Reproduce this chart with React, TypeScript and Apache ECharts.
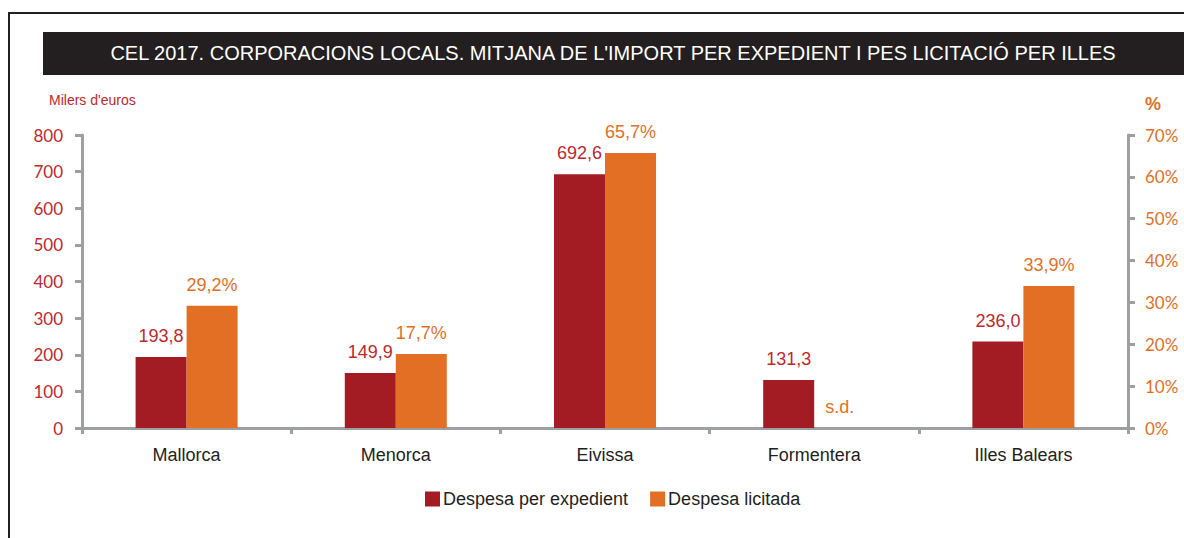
import React, { useEffect, useRef } from "react";
import * as echarts from "echarts";

const titleText = "CEL 2017. CORPORACIONS LOCALS. MITJANA DE L'IMPORT PER EXPEDIENT I PES LICITACIÓ PER ILLES";
const categories = ["Mallorca", "Menorca", "Eivissa", "Formentera", "Illes Balears"];
const despesaExpedient = [193.8, 149.9, 692.6, 131.3, 236.0];
const despesaLicitada: (number | null)[] = [29.2, 17.7, 65.7, null, 33.9];
const seriesNames = ["Despesa per expedient", "Despesa licitada"];
const missingLabel = "s.d.";

const RED = "#a31c24";
const RED_TEXT = "#c0282d";
const ORANGE = "#e36f25";
const AXIS = "#9d9fa2";
const DARK = "#231f20";

export default function App() {
  const ref = useRef<HTMLDivElement>(null);
  useEffect(() => {
    if (!ref.current) return;
    const chart = echarts.init(ref.current, null, { renderer: "svg" });
    const fmt = (v: number) => v.toFixed(1).replace(".", ",");
    const option: any = {
      animation: false,
      backgroundColor: "#ffffff",
      textStyle: { fontFamily: "Liberation Sans, Arial, sans-serif" },
      graphic: [
        { type: "line", shape: { x1: 9, y1: 13, x2: 1184, y2: 13 }, style: { stroke: DARK, lineWidth: 2 } },
        { type: "line", shape: { x1: 9, y1: 12, x2: 9, y2: 538 }, style: { stroke: DARK, lineWidth: 2 } },
        { type: "rect", shape: { x: 43, y: 32, width: 1141, height: 43 }, style: { fill: DARK } },
        {
          type: "text",
          x: 613,
          y: 53,
          style: {
            text: titleText,
            fill: "#ffffff",
            font: "20px 'Liberation Sans', Arial, sans-serif",
            textAlign: "center",
            textVerticalAlign: "middle",
          },
        },
        {
          type: "text",
          x: 49,
          y: 100,
          style: {
            text: "Milers d'euros",
            fill: RED_TEXT,
            font: "14px 'Liberation Sans', Arial, sans-serif",
            textAlign: "left",
            textVerticalAlign: "middle",
          },
        },
        {
          type: "text",
          x: 1145,
          y: 104,
          style: {
            text: "%",
            fill: ORANGE,
            font: "bold 18px 'Liberation Sans', Arial, sans-serif",
            textAlign: "left",
            textVerticalAlign: "middle",
          },
        },
      ],
      legend: {
        bottom: 25,
        left: 420,
        itemWidth: 15,
        itemHeight: 15,
        itemGap: 22,
        icon: "rect",
        textStyle: { fontSize: 18, color: DARK, fontFamily: "Liberation Sans, Arial, sans-serif", padding: [0, 0, 0, -2] },
        data: seriesNames,
      },
      grid: { left: 82, right: 56, top: 135, bottom: 110, containLabel: false },
      xAxis: {
        type: "category",
        data: categories,
        axisLine: { lineStyle: { color: AXIS, width: 3 } },
        axisTick: { show: true, length: 6, lineStyle: { color: AXIS, width: 3 } },
        axisLabel: { fontSize: 18, color: DARK, margin: 18 },
      },
      yAxis: [
        {
          type: "value",
          min: 0,
          max: 800,
          interval: 100,
          position: "left",
          splitLine: { show: false },
          axisLine: { show: true, lineStyle: { color: AXIS, width: 3 } },
          axisTick: { show: true, length: 7, lineStyle: { color: AXIS, width: 3 } },
          axisLabel: { fontSize: 17, color: RED_TEXT, margin: 19, fontFamily: "Lato, sans-serif" },
        },
        {
          type: "value",
          min: 0,
          max: 70,
          interval: 10,
          position: "right",
          splitLine: { show: false },
          axisLine: { show: true, lineStyle: { color: AXIS, width: 3 } },
          axisTick: { show: true, length: 7, lineStyle: { color: AXIS, width: 3 } },
          axisLabel: { fontSize: 17, color: ORANGE, margin: 17, fontFamily: "Lato, sans-serif", formatter: "{value}%" },
        },
      ],
      series: [
        {
          name: seriesNames[0],
          type: "bar",
          yAxisIndex: 0,
          data: despesaExpedient,
          barWidth: 51,
          barGap: "0%",
          itemStyle: { color: RED },
          label: {
            show: true,
            position: "top",
            distance: 12,
            fontSize: 18,
            color: RED_TEXT,
            formatter: (p: any) => fmt(p.value),
          },
        },
        {
          name: seriesNames[1],
          type: "bar",
          yAxisIndex: 1,
          data: despesaLicitada.map((v) =>
            v === null ? { value: 0, label: { formatter: missingLabel } } : v
          ),
          barWidth: 51,
          barGap: "0%",
          itemStyle: { color: ORANGE },
          label: {
            show: true,
            position: "top",
            distance: 12,
            fontSize: 18,
            color: ORANGE,
            formatter: (p: any) => fmt(p.value) + "%",
          },
        },
      ],
    };
    chart.setOption(option);
    return () => chart.dispose();
  }, []);
  return (
    <div
      ref={ref}
      style={{ position: "fixed", left: 0, top: 0, width: 1184, height: 538, background: "#fff" }}
    />
  );
}
